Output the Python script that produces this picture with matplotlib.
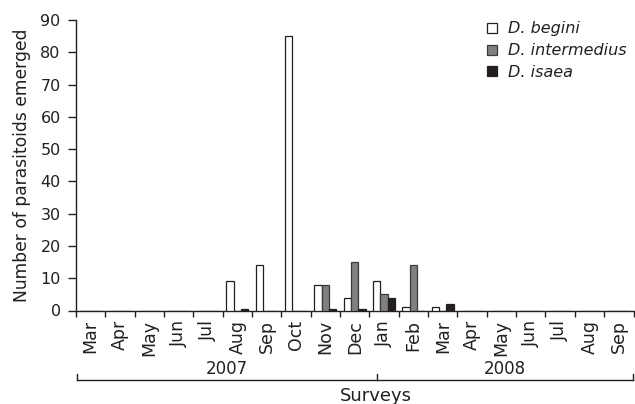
import matplotlib
matplotlib.use("Agg")
import matplotlib.pyplot as plt
import matplotlib.transforms as mtransforms
from matplotlib.patches import Patch
import numpy as np

plt.rcParams['font.family'] = ['DejaVu Sans']

months = ["Mar", "Apr", "May", "Jun", "Jul", "Aug", "Sep", "Oct", "Nov", "Dec",
          "Jan", "Feb", "Mar", "Apr", "May", "Jun", "Jul", "Aug", "Sep"]
years = ["2007", "2008"]
species = ["D. begini", "D. intermedius", "D. isaea"]
begini =     [0, 0, 0, 0, 0, 9, 14, 85, 8, 4, 9, 1, 1, 0, 0, 0, 0, 0, 0]
intermedius = [0, 0, 0, 0, 0, 0, 0, 0, 8, 15, 5, 14, 0, 0, 0, 0, 0, 0, 0]
isaea =      [0, 0, 0, 0, 0, 0.5, 0, 0, 0.5, 0.5, 4, 0, 2, 0, 0, 0, 0, 0, 0]

face_colors = ["#ffffff", "#808080", "#231f20"]
edge_colors = ["#231f20", "#3a3a3a", "#231f20"]
txt = '#231f20'

fig = plt.figure(figsize=(6.35, 4.04), dpi=100)
ax = fig.add_axes([76/635, 1-310.5/404, (633.5-76)/635, (310.5-20)/404])

x = np.arange(len(months))
w = 0.25
for i, (vals, fc, ec) in enumerate(zip([begini, intermedius, isaea], face_colors, edge_colors)):
    ax.bar(x + (i-1)*w, vals, width=w, color=fc, edgecolor=ec, linewidth=0.9, zorder=3)

ax.set_xlim(-0.5, len(months)-0.5)
ax.set_ylim(0, 90)
ax.set_yticks(np.arange(0, 91, 10))
ax.tick_params(axis='y', direction='out', length=6, width=1, pad=5, labelsize=11.5, colors=txt)
ax.set_xticks(np.arange(-0.5, len(months)+0.5, 1))
ax.set_xticklabels([])
ax.set_xticks(x, minor=True)
ax.set_xticklabels(months, minor=True, rotation=90, fontsize=12.5, color=txt)
ax.tick_params(axis='x', which='major', direction='out', length=4.5, width=1, colors=txt)
ax.tick_params(axis='x', which='minor', length=0, pad=7)
for s in ['top', 'right']:
    ax.spines[s].set_visible(False)
for s in ['left', 'bottom']:
    ax.spines[s].set_linewidth(1)
    ax.spines[s].set_color(txt)

# year bracket
trans = mtransforms.blended_transform_factory(ax.transData, fig.transFigure)
yb = 1 - 380/404
yt = 1 - 374/404
ax.plot([-0.48, 18.48], [yb, yb], transform=trans, clip_on=False, color=txt, lw=1)
for xp in [-0.48, 9.75, 18.48]:
    ax.plot([xp, xp], [yb, yt], transform=trans, clip_on=False, color=txt, lw=1)
ax.text(4.64, 1-369/404, years[0], transform=trans, ha='center', va='center', fontsize=12, color=txt)
ax.text(14.1, 1-369/404, years[1], transform=trans, ha='center', va='center', fontsize=12, color=txt)
fig.text(376/635, 1-396/404, "Surveys", ha='center', va='center', fontsize=13, color=txt)
fig.text(22/635, 1-165/404, "Number of parasitoids emerged", rotation=90, ha='center', va='center',
         fontsize=12.3, color=txt)

handles = [Patch(facecolor=fc, edgecolor=ec, linewidth=0.9) for fc, ec in zip(face_colors, edge_colors)]
leg = ax.legend(handles, species, loc='upper left', bbox_to_anchor=(487/635, 1-21.5/404),
                bbox_transform=fig.transFigure, frameon=False, handlelength=0.6, handleheight=0.6,
                handletextpad=0.7, labelspacing=0.42, borderpad=0, borderaxespad=0,
                prop={'style': 'italic', 'size': 11.5})
for t in leg.get_texts():
    t.set_color(txt)

fig.savefig("out.png", dpi=100)
